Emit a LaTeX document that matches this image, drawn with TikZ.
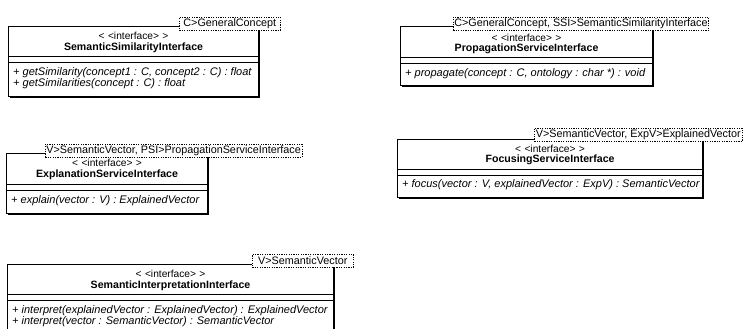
\documentclass[tikz,border=0pt]{standalone}
\usepackage{fontspec}
\setmainfont{Liberation Sans}
\usetikzlibrary{positioning, calc, shadows}
\tikzstyle{iface}=[rectangle, draw, fill=white, line width=1.1pt, anchor=north west,
                   inner sep=0pt,
                   % The shadow gives the thick right and bottom edges
                   drop shadow={shadow xshift=1pt, shadow yshift=-1pt, fill=black, opacity=1}]
\tikzstyle{tmpl}=[rectangle, draw, fill=white, line width=0.6pt, dash pattern=on 1.2pt off 1.2pt,
                  anchor=north west, inner sep=1pt, minimum height=13pt,
                  font=\fontsize{10.8}{12}\selectfont]
\tikzstyle{stereo}=[inner sep=0pt, font=\fontsize{10.2}{12}\selectfont]
\tikzstyle{cname}=[inner sep=0pt, font=\fontsize{10.6}{12}\selectfont\bfseries]
\tikzstyle{op}=[inner sep=0pt, anchor=west, font=\fontsize{11}{12}\selectfont\itshape]
\tikzstyle{sep}=[line width=0.8pt]

\begin{document}
\begin{tikzpicture}[x=1pt, y=-1pt]
  \useasboundingbox[fill=white] (0,0) rectangle (747,329);

  % SemanticSimilarityInterface
  \node[iface, minimum width=250, minimum height=70] (ssi) at (8,26) {};
  \node[stereo] (ssiS) at ($(ssi.north)+(0,10)$) {<\,\,<interface>\,\,>};
  \node[cname] (ssiN) at ($(ssi.north)+(0,22)$) {SemanticSimilarityInterface};
  \draw[sep] ($(ssi.north west)+(0,30)$) -- ($(ssi.north east)+(0,30)$);
  \draw[sep] ($(ssi.north west)+(0,36)$) -- ($(ssi.north east)+(0,36)$);
  \node[op] (ssiM1) at ($(ssi.north west)+(5,47)$) {+ getSimilarity(concept1 : C, concept2 : C) : float};
  \node[op] (ssiM2) at ($(ssi.north west)+(5,58)$) {+ getSimilarities(concept : C) : float};
  \node[tmpl, minimum width=101] (ssiT) at (179,17) {C>GeneralConcept};

  % PropagationServiceInterface
  \node[iface, minimum width=252, minimum height=59] (psi) at (400,26) {};
  \node[stereo] (psiS) at ($(psi.north)+(0,12)$) {<\,\,<interface>\,\,>};
  \node[cname] (psiN) at ($(psi.north)+(0,23)$) {PropagationServiceInterface};
  \draw[sep] ($(psi.north west)+(0,31)$) -- ($(psi.north east)+(0,31)$);
  \draw[sep] ($(psi.north west)+(0,37)$) -- ($(psi.north east)+(0,37)$);
  \node[op] (psiM1) at ($(psi.north west)+(5,48)$) {+ propagate(concept : C, ontology : char *) : void};
  \node[tmpl, minimum width=249] (psiT) at (453,17) {C>GeneralConcept, SSI>SemanticSimilarityInterface};

  % ExplanationServiceInterface
  \node[iface, minimum width=201, minimum height=60] (esi) at (6,153) {};
  \node[stereo] (esiS) at ($(esi.north)+(0,10)$) {<\,\,<interface>\,\,>};
  \node[cname] (esiN) at ($(esi.north)+(0,22)$) {ExplanationServiceInterface};
  \draw[sep] ($(esi.north west)+(0,31)$) -- ($(esi.north east)+(0,31)$);
  \draw[sep] ($(esi.north west)+(0,37)$) -- ($(esi.north east)+(0,37)$);
  \node[op] (esiM1) at ($(esi.north west)+(5,48)$) {+ explain(vector : V) : ExplainedVector};
  \node[tmpl, minimum width=254] (esiT) at (45,144) {V>SemanticVector, PSI>PropagationServiceInterface};

  % FocusingServiceInterface
  \node[iface, minimum width=305, minimum height=58] (fsi) at (397,139) {};
  \node[stereo] (fsiS) at ($(fsi.north)+(0,10)$) {<\,\,<interface>\,\,>};
  \node[cname] (fsiN) at ($(fsi.north)+(0,21)$) {FocusingServiceInterface};
  \draw[sep] ($(fsi.north west)+(0,30)$) -- ($(fsi.north east)+(0,30)$);
  \draw[sep] ($(fsi.north west)+(0,36)$) -- ($(fsi.north east)+(0,36)$);
  \node[op] (fsiM1) at ($(fsi.north west)+(5,46)$) {+ focus(vector : V, explainedVector : ExpV) : SemanticVector};
  \node[tmpl, minimum width=208] (fsiT) at (534,128) {V>SemanticVector, ExpV>ExplainedVector};

  % SemanticInterpretationInterface
  \node[iface, minimum width=326, minimum height=70] (sii) at (7,264) {};
  \node[stereo] (siiS) at ($(sii.north)+(0,10)$) {<\,\,<interface>\,\,>};
  \node[cname] (siiN) at ($(sii.north)+(0,22)$) {SemanticInterpretationInterface};
  \draw[sep] ($(sii.north west)+(0,30)$) -- ($(sii.north east)+(0,30)$);
  \draw[sep] ($(sii.north west)+(0,36)$) -- ($(sii.north east)+(0,36)$);
  \node[op] (siiM1) at ($(sii.north west)+(5,47)$) {+ interpret(explainedVector : ExplainedVector) : ExplainedVector};
  \node[op] (siiM2) at ($(sii.north west)+(5,58)$) {+ interpret(vector : SemanticVector) : SemanticVector};
  \node[tmpl, minimum width=101] (siiT) at (252,254) {V>SemanticVector};
\end{tikzpicture}
\end{document}
